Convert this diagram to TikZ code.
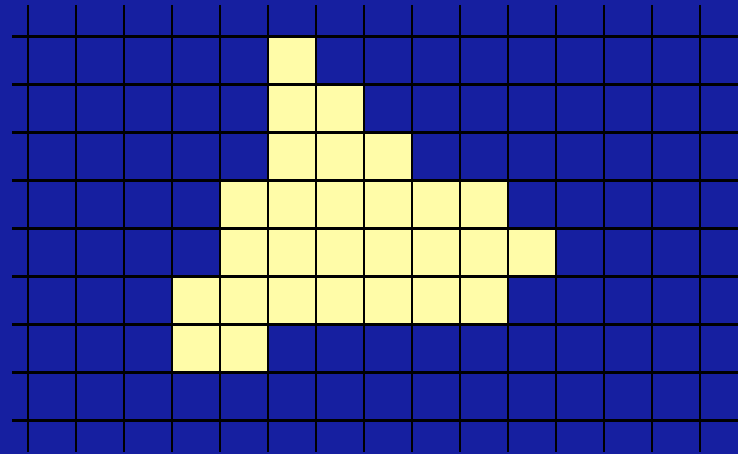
\documentclass[tikz,border=0pt]{standalone}
\definecolor{gridblue}{RGB}{22,31,160}
\definecolor{cellyellow}{RGB}{255,252,168}
\tikzset{
  gridline/.style={black, line width=2.4pt},
  cell/.style={fill=cellyellow}
}
\begin{document}
\begin{tikzpicture}[x=1pt,y=-1pt]
\fill[gridblue] (0,0) rectangle (738,454);
\useasboundingbox (0,0) rectangle (738,454);
% yellow cells: col c spans 28+48c .. 76+48c ; row r spans 37+48r .. 85+48r
\foreach \c/\r in {5/0, 5/1,6/1, 5/2,6/2,7/2,
  4/3,5/3,6/3,7/3,8/3,9/3,
  4/4,5/4,6/4,7/4,8/4,9/4,10/4,
  3/5,4/5,5/5,6/5,7/5,8/5,9/5,
  3/6,4/6}
  \fill[cell] ({28+48*\c},{36.5+48*\r}) rectangle ({76+48*\c},{84.5+48*\r});
% grid lines
\foreach \i in {0,...,14}
  \draw[gridline] ({28+48*\i},5) -- ({28+48*\i},452);
\foreach \j in {0,...,8}
  \draw[gridline] (12,{36.5+48*\j}) -- (738,{36.5+48*\j});
\end{tikzpicture}
\end{document}
